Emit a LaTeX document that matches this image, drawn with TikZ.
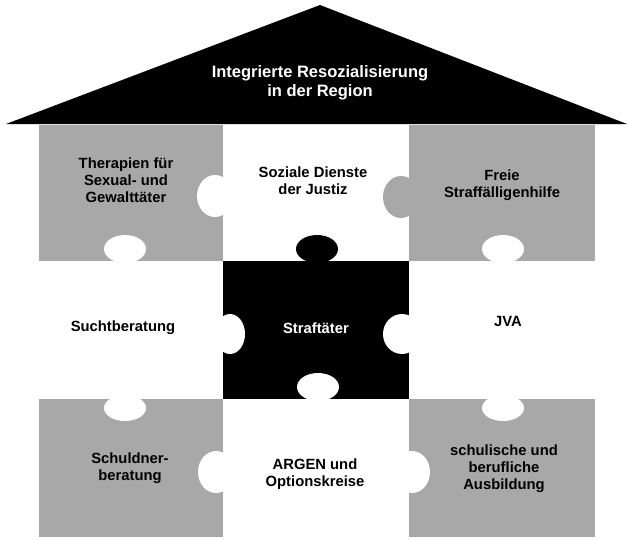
\documentclass[tikz,border=0pt]{standalone}
\usepackage{fontspec}
\setmainfont{Liberation Sans}
\definecolor{piecegray}{RGB}{168,168,168}
\tikzset{
    piecetext/.style={font=\bfseries\fontsize{14.8}{17}\selectfont, align=center, inner sep=0pt},
    rooftext/.style={font=\bfseries\fontsize{16.5}{19}\selectfont, align=center, inner sep=0pt, text=white}
}
\begin{document}
\begin{tikzpicture}[x=1pt, y=-1pt]
\useasboundingbox (0,0) rectangle (627,539);
\fill[black] (6,124) -- (320,5) -- (627,124) -- cycle;
\foreach \x/\y/\u/\v in {39/125/223/261, 409/125/595/261, 39/399/223/537, 409/399/595/537}
{
    \fill[piecegray] (\x,\y) rectangle (\u,\v);
}
\fill[black] (223,261) rectangle (409,399);
\foreach \x/\y/\a/\b in {215/196/18/21, 125/249/21/14, 503/249/21/14, 230/334/15/20, 402/334/19/20,
    318/387/21/14, 125/408/21/13, 503/408/21/13, 216/472/18/21, 412/472/18/21}
{
    \fill[white] (\x,\y) ellipse ({\a} and {\b});
}
\fill[piecegray] (401,197) ellipse (18 and 21);
\fill[black] (317,249) ellipse (21 and 14);
\node[rooftext] (region) at (320,83) {Integrierte Resozialisierung\\in der Region};
\node[piecetext] (therapien) at (126,180) {Therapien für\\Sexual- und\\Gewalttäter};
\node[piecetext] (dienste) at (313,181) {Soziale Dienste\\der Justiz};
\node[piecetext] (hilfe) at (502,185) {Freie\\Straffälligenhilfe};
\node[piecetext] (sucht) at (123,328) {Suchtberatung};
\node[piecetext, text=white] (taeter) at (316,328) {Straftäter};
\node[piecetext] (jva) at (508,321) {JVA};
\node[piecetext] (schulden) at (130,468) {Schuldner-\\beratung};
\node[piecetext] (argen) at (315,474) {ARGEN und\\Optionskreise};
\node[piecetext] (bildung) at (504,469) {schulische und\\berufliche\\Ausbildung};
\end{tikzpicture}
\end{document}
